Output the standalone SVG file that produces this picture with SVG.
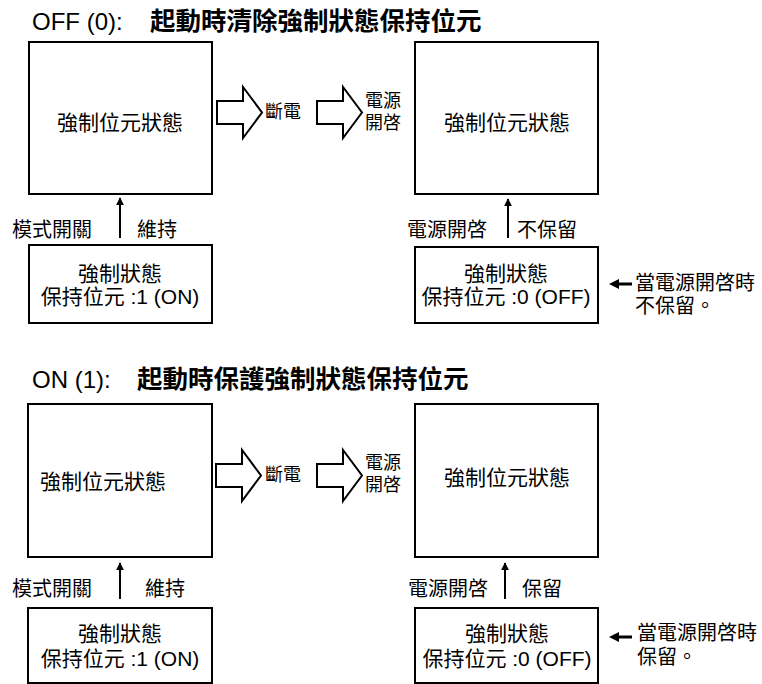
<svg xmlns="http://www.w3.org/2000/svg" width="762" height="684" viewBox="0 0 762 684">
<style>
text{font-family:"Liberation Sans","Noto Sans CJK TC",sans-serif;fill:#000}
.t{font-size:24px}
.tc{font-size:25.5px;font-weight:bold}
.big{font-size:21px;text-anchor:middle}
.lbl{font-size:20px}
.sm{font-size:18px}
.box{fill:#fff;stroke:#000;stroke-width:2}
.hol{fill:#fff;stroke:#000;stroke-width:2;stroke-linejoin:miter}
.up{stroke:#000;stroke-width:2;fill:none;marker-end:url(#ah)}
.ptr{stroke:#000;stroke-width:3;fill:none}
</style>
<defs>
<marker id="ah" viewBox="0 0 10 10" refX="9" refY="5" markerWidth="4" markerHeight="5" orient="auto" markerUnits="strokeWidth">
<path d="M0,0 L10,5 L0,10 z" fill="#000"/>
</marker>
<polygon id="hollow" points="0,-11.5 26,-11.5 26,-25.5 45,0 26,25.5 26,11.5 0,11.5"/>
</defs>
<rect width="762" height="684" fill="#fff"/>

<!-- Top section -->
<text class="t" x="32" y="30">OFF (0):<tspan class="tc" x="150">起動時清除強制狀態保持位元</tspan></text>

<g id="top-state-left">
<rect class="box" x="29" y="42" width="183" height="152"/>
<text class="big" x="120" y="130">強制位元狀態</text>
</g>
<g id="top-state-right">
<rect class="box" x="415" y="42" width="183" height="152"/>
<text class="big" x="507" y="130">強制位元狀態</text>
</g>
<g id="top-hold-left">
<rect class="box" x="29" y="245" width="183" height="78"/>
<text class="big" x="120" y="281">強制狀態</text>
<text class="big" x="120" y="304">保持位元 :1 (ON)</text>
</g>
<g id="top-hold-right">
<rect class="box" x="415" y="247" width="183" height="76"/>
<text class="big" x="506" y="281">強制狀態</text>
<text class="big" x="506" y="304">保持位元 :0 (OFF)</text>
</g>
<g id="top-labels">
<text class="sm" x="265" y="118">斷電</text>
<text class="sm" x="365" y="107">電源</text>
<text class="sm" x="365" y="129">開啓</text>
<text class="lbl" x="12" y="237">模式開關</text>
<text class="lbl" x="137" y="237">維持</text>
<text class="lbl" x="407" y="237">電源開啓</text>
<text class="lbl" x="517" y="237">不保留</text>
<text class="lbl" x="635" y="290">當電源開啓時</text>
<text class="lbl" x="635" y="313">不保留。</text>
</g>

<!-- Bottom section -->
<text class="t" x="32" y="388">ON (1):<tspan class="tc" x="137">起動時保護強制狀態保持位元</tspan></text>

<g id="bot-state-left">
<rect class="box" x="28" y="404" width="184" height="153"/>
<text class="big" x="103" y="489">強制位元狀態</text>
</g>
<g id="bot-state-right">
<rect class="box" x="415" y="404" width="183" height="153"/>
<text class="big" x="507" y="485">強制位元狀態</text>
</g>
<g id="bot-hold-left">
<rect class="box" x="28" y="608" width="184" height="75"/>
<text class="big" x="120" y="641">強制狀態</text>
<text class="big" x="120" y="666">保持位元 :1 (ON)</text>
</g>
<g id="bot-hold-right">
<rect class="box" x="415" y="608" width="183" height="75"/>
<text class="big" x="507" y="641">強制狀態</text>
<text class="big" x="507" y="666">保持位元 :0 (OFF)</text>
</g>
<g id="bot-labels">
<text class="sm" x="265" y="481">斷電</text>
<text class="sm" x="365" y="469">電源</text>
<text class="sm" x="365" y="491">開啓</text>
<text class="lbl" x="12" y="596">模式開關</text>
<text class="lbl" x="145" y="596">維持</text>
<text class="lbl" x="408" y="596">電源開啓</text>
<text class="lbl" x="522" y="596">保留</text>
<text class="lbl" x="637" y="640">當電源開啓時</text>
<text class="lbl" x="637" y="664">保留。</text>
</g>

<g id="connectors">
<use href="#hollow" class="hol" transform="translate(217,112.5)"/>
<use href="#hollow" class="hol" transform="translate(317,112.5)"/>
<use href="#hollow" class="hol" transform="translate(216,475.5)"/>
<use href="#hollow" class="hol" transform="translate(317,475.5)"/>
<line class="up" x1="120" y1="238" x2="120" y2="198"/>
<line class="up" x1="508" y1="238" x2="508" y2="199"/>
<line class="up" x1="120" y1="599" x2="120" y2="563"/>
<line class="up" x1="505" y1="599" x2="505" y2="563"/>
<line class="ptr" x1="632" y1="284" x2="617" y2="284"/>
<path d="M609,284 L619,279 L619,289 z" fill="#000"/>
<line class="ptr" x1="632" y1="637" x2="617" y2="637"/>
<path d="M609,637 L619,632 L619,642 z" fill="#000"/>
</g>
</svg>
